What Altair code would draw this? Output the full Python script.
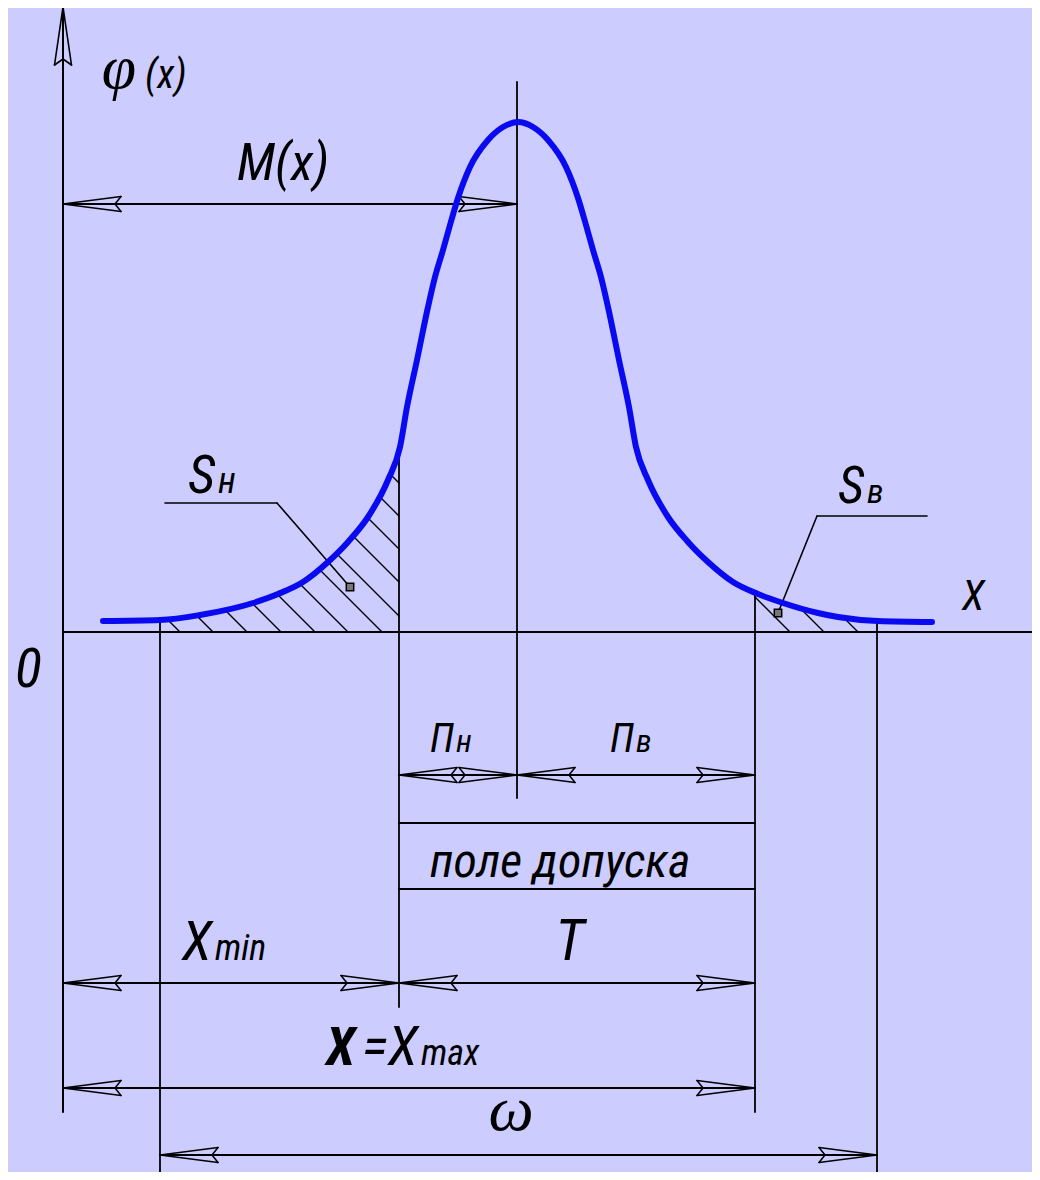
import altair as alt
import pandas as pd
import numpy as np

BG = "#ccccff"
INK = "#000000"
BLUE = "#0a0af0"
SANS = "Roboto Condensed, DejaVu Sans Condensed, sans-serif"
SERIF = "Liberation Serif, DejaVu Serif, serif"

# ---- density curve (image pixel units, y downwards)
curve_x = [103, 160, 200, 253, 278, 303, 328, 348, 368, 388, 400, 407, 417, 428, 435,
           443, 450, 458, 470, 488, 503, 518, 533, 548, 566, 578, 586, 593, 601, 608,
           619, 629, 636, 648, 668, 688, 708, 733, 758, 783, 818, 838, 878, 932]
curve_y = [621, 620, 615, 603, 594, 582, 562, 542, 517, 480, 447, 407, 360, 307, 277,
           250, 225, 198, 167, 140, 127, 122, 127, 140, 167, 198, 225, 250, 277, 307,
           360, 407, 447, 480, 517, 542, 562, 582, 594, 603, 613, 617, 621, 622]

# ---- axes
axis_y_level = 632
axis_x_pos = 63

# ---- extension lines (x, top, bottom)
ext_x = [517, 399, 755, 160, 877]
ext_top = [82, 447, 592, 620, 621]
ext_bot = [798, 1007, 1112, 1178, 1178]

# ---- dimension lines (start, end, level)
dim_name = ["M(x)", "Пн", "Пв", "Xmin", "T", "Xmax", "ω"]
dim_x1 = [63, 399, 517, 63, 399, 63, 160]
dim_x2 = [517, 517, 755, 399, 755, 755, 877]
dim_y = [204, 775, 775, 983, 983, 1088, 1155]

# ---- tolerance field box
box_x1, box_x2 = 399, 755
box_y = [823, 889]

# ---- hatching (where each hatch line meets the x axis)
hatch_left_b = [180, 213, 247, 281, 315, 348, 382, 415, 449, 482, 515, 548]
hatch_right_b = [790, 824, 858]
hatch_left_lim = (160, 399)
hatch_right_lim = (755, 877)

# ---- leaders for S areas: polyline points
leader_sn_x = [165, 277, 350]
leader_sn_y = [503, 503, 587]
leader_sv_x = [927, 817, 778]
leader_sv_y = [516, 516, 613]

# ---- labels
lab_left_text = ["(x)", "S", "н", "S", "в", "X", "0", "П", "н", "П", "в",
                 "X", "min", "=X", "max"]
lab_left_x = [145, 188, 218, 838, 867, 962, 15, 430, 456, 610, 636,
              182, 215, 362, 421]
lab_left_y = [88, 493, 493, 503, 503, 610, 687, 752, 752, 752, 752,
              960, 960, 1065, 1065]
lab_left_size = [40, 54, 36, 52, 34, 42, 56, 40, 32, 40, 32,
                  56, 36, 56, 36]

bold_text = ["X"]
bold_x = [326]
bold_y = [1065]
bold_size = [54]

lab_c_text = ["M(x)", "поле допуска", "T"]
lab_c_x = [283, 560, 570]
lab_c_y = [180, 877, 960]
lab_c_size = [52, 48, 58]

greek_text = ["φ", "ω"]
greek_x = [119, 511]
greek_y = [88, 1130]
greek_size = [62, 64]

# ================= geometry built from the values above =================
segs = []


def seg(x, y, x2, y2, w=1.6):
    segs.append(dict(x=x, y=y, x2=x2, y2=y2, w=w))


seg(axis_x_pos, 10, axis_x_pos, 1112, 2)
seg(axis_x_pos, axis_y_level, 1040, axis_y_level, 2)
for xx, t, b in zip(ext_x, ext_top, ext_bot):
    seg(xx, t, xx, b, 1.8)
for yy in box_y:
    seg(box_x1, yy, box_x2, yy, 1.8)

AL, AW, AN = 58, 7.5, 6


def arrow_h(tx, ty, d):
    rear = tx - d * AL
    notch = rear + d * AN
    pts = [(tx, ty), (rear, ty - AW), (notch, ty), (rear, ty + AW), (tx, ty)]
    for (a, b), (c, e) in zip(pts[:-1], pts[1:]):
        seg(a, b, c, e, 1.5)


for x1, x2, yy in zip(dim_x1, dim_x2, dim_y):
    seg(x1, yy, x2, yy, 1.8)
    arrow_h(x1, yy, -1)
    arrow_h(x2, yy, 1)

ty = 7
pts = [(axis_x_pos, ty), (axis_x_pos - 8.5, ty + AL), (axis_x_pos, ty + AL - AN),
       (axis_x_pos + 8.5, ty + AL), (axis_x_pos, ty)]
for (a, b), (c, e) in zip(pts[:-1], pts[1:]):
    seg(a, b, c, e, 1.6)

for lx, ly in [(leader_sn_x, leader_sn_y), (leader_sv_x, leader_sv_y)]:
    for i in range(len(lx) - 1):
        seg(lx[i], ly[i], lx[i + 1], ly[i + 1], 1.6)


def hatch(b, lo, hi):
    lx = min(b, hi)
    ly = axis_y_level - (b - lx)
    x = lx
    while x > lo:
        line_y = x + axis_y_level - b
        if line_y < np.interp(x, curve_x, curve_y):
            break
        x -= 0.25
    x = max(x, lo)
    seg(lx, ly, x, x + axis_y_level - b, 1.4)


for b in hatch_left_b:
    hatch(b, *hatch_left_lim)
for b in hatch_right_b:
    hatch(b, *hatch_right_lim)

seg_df = pd.DataFrame(segs)
curve_df = pd.DataFrame({"x": curve_x, "y": curve_y})
marker_df = pd.DataFrame({"x": [leader_sn_x[-1], leader_sv_x[-1]],
                          "y": [leader_sn_y[-1], leader_sv_y[-1]]})
lab_left_df = pd.DataFrame({"t": lab_left_text, "x": lab_left_x, "y": lab_left_y,
                            "s": lab_left_size})
bold_df = pd.DataFrame({"t": bold_text, "x": bold_x, "y": bold_y, "s": bold_size})
lab_c_df = pd.DataFrame({"t": lab_c_text, "x": lab_c_x, "y": lab_c_y, "s": lab_c_size})
greek_df = pd.DataFrame({"t": greek_text, "x": greek_x, "y": greek_y, "s": greek_size})

xs = alt.Scale(domain=[8, 1032], nice=False, zero=False)
ys = alt.Scale(domain=[8, 1172], nice=False, zero=False, reverse=True)
X = lambda f="x": alt.X(f + ":Q", scale=xs, axis=None)
Y = lambda f="y": alt.Y(f + ":Q", scale=ys, axis=None)

rules = alt.Chart(seg_df).mark_rule(color=INK, strokeCap="round").encode(
    x=X(), y=Y(), x2="x2:Q", y2="y2:Q",
    strokeWidth=alt.StrokeWidth("w:Q", scale=None, legend=None))

curve = alt.Chart(curve_df).mark_line(color=BLUE, strokeWidth=6, strokeCap="round",
                                      interpolate="monotone").encode(
    x=X(), y=Y(), order="x:Q")

markers = alt.Chart(marker_df).mark_point(shape="square", size=55, filled=True,
                                          fill="#777777", stroke=INK, strokeWidth=1.5,
                                          opacity=1).encode(x=X(), y=Y())


def text_layer(df, font, align, weight="normal"):
    return alt.Chart(df).mark_text(font=font, fontStyle="italic", fontWeight=weight,
                                   align=align, baseline="alphabetic", color=INK).encode(
        x=X(), y=Y(), text="t:N", size=alt.Size("s:Q", scale=None, legend=None))


txt_left = text_layer(lab_left_df, SANS, "left")
txt_bold = text_layer(bold_df, SANS, "left", "bold")
txt_c = text_layer(lab_c_df, SANS, "center")
txt_g = text_layer(greek_df, SERIF, "center")

chart = alt.layer(rules, curve, markers, txt_left, txt_bold, txt_c, txt_g).properties(
    width=1024, height=1164, background=BG, padding=0,
    autosize=alt.AutoSizeParams(type="none"),
).configure_view(strokeWidth=0)

chart.save("out.html", embed_options={"renderer": "svg", "actions": False})
